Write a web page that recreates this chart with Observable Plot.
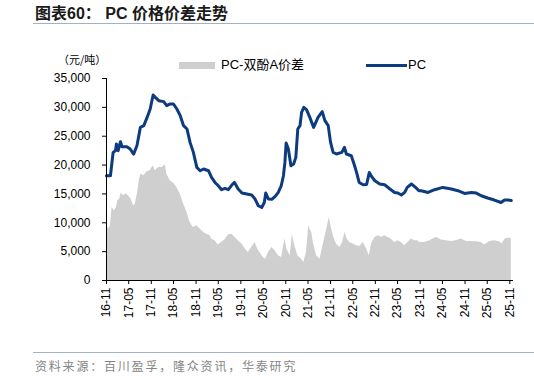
<!DOCTYPE html>
<html><head><meta charset="utf-8">
<script src="https://cdn.jsdelivr.net/npm/d3@7"></script>
<script src="https://cdn.jsdelivr.net/npm/@observablehq/plot@0.6"></script>
<style>
body{margin:0;background:#fff;}
#wrap{position:relative;width:534px;height:378px;overflow:hidden;font-family:"Liberation Sans",Arial,sans-serif;}
#title{position:absolute;left:35px;top:4px;font-weight:bold;font-size:16px;line-height:20px;font-family:"Liberation Sans","Noto Sans CJK SC",sans-serif;color:#1a1a1a;white-space:nowrap;}
.rule{position:absolute;left:33px;width:501px;height:1px;background:#9fb2c9;}
#chart{position:absolute;left:0;top:24px;}
#unit{position:absolute;left:58px;top:52px;font-size:11px;line-height:14px;font-family:"Noto Sans CJK SC",sans-serif;color:#000;white-space:nowrap;}
.lg{position:absolute;font-size:13px;line-height:16px;font-family:"Liberation Sans","Noto Sans CJK SC",sans-serif;color:#000;white-space:nowrap;}
#source{position:absolute;left:35px;top:358px;font-size:12px;line-height:16px;letter-spacing:1.8px;font-family:"Noto Sans CJK SC",sans-serif;color:#858585;white-space:nowrap;}
</style></head>
<body>
<div id="wrap">
  <div id="title">图表60：&nbsp;PC 价格价差走势</div>
  <div class="rule" style="top:23px"></div>
  <div id="chart"></div>
  <div id="unit">（元/吨）</div>
  <div style="position:absolute;left:179px;top:62px;width:36px;height:7px;background:#cfcfcf"></div>
  <div class="lg" style="left:221px;top:57px">PC-双酚A价差</div>
  <div style="position:absolute;left:366px;top:64px;width:41px;height:3px;background:#0c3b80"></div>
  <div class="lg" style="left:408px;top:57px">PC</div>
  <div class="rule" style="top:352px"></div>
  <div id="source">资料来源：百川盈孚，隆众资讯，华泰研究</div>
</div>
<script>
const pcDates = ["2016-11-01","2016-12-03","2016-12-25","2017-01-13","2017-01-21","2017-02-04","2017-02-23","2017-03-07","2017-04-16","2017-05-13","2017-06-10","2017-07-07","2017-08-04","2017-09-01","2017-09-28","2017-10-23","2017-11-16","2017-12-04","2018-01-01","2018-02-10","2018-03-07","2018-04-04","2018-05-01","2018-05-28","2018-06-25","2018-07-22","2018-08-19","2018-09-13","2018-10-10","2018-11-07","2018-12-04","2019-01-01","2019-02-10","2019-03-07","2019-04-04","2019-05-01","2019-05-28","2019-06-25","2019-07-22","2019-08-19","2019-09-10","2019-10-10","2019-11-10","2019-12-19","2020-01-28","2020-02-25","2020-03-22","2020-04-19","2020-05-10","2020-05-22","2020-06-13","2020-07-10","2020-08-07","2020-09-01","2020-09-25","2020-10-13","2020-10-25","2020-11-04","2020-11-22","2020-12-13","2021-01-04","2021-01-22","2021-02-07","2021-02-25","2021-03-10","2021-03-28","2021-04-19","2021-05-16","2021-06-16","2021-07-22","2021-08-25","2021-09-16","2021-10-13","2021-11-01","2021-11-22","2021-12-19","2022-02-01","2022-02-22","2022-03-10","2022-04-19","2022-05-16","2022-06-01","2022-06-22","2022-07-25","2022-08-22","2022-09-13","2022-10-01","2022-10-28","2022-12-07","2023-01-16","2023-02-28","2023-04-07","2023-05-04","2023-06-01","2023-06-28","2023-07-19","2023-08-22","2023-09-25","2023-10-22","2023-11-10","2024-01-04","2024-02-27","2024-05-04","2024-07-13","2024-09-04","2024-10-28","2024-12-22","2025-02-01","2025-03-13","2025-05-04","2025-06-28","2025-08-22","2025-09-19","2025-10-16","2025-11-13"];
const pcValues = [18150,18150,22200,22490,23650,22490,24050,23180,23180,22780,21900,23360,26530,26830,28260,29720,32150,31730,31160,30990,30290,30590,30590,29720,28560,26830,26250,23930,22200,19600,19020,19320,19020,17860,16990,16420,15730,15950,15730,16540,16990,15850,15150,14980,14810,14110,12950,12660,13520,15150,14110,14060,14570,15260,16420,18150,20460,23820,22780,19890,20180,21330,26250,26830,29130,30000,29600,28260,26530,28260,29250,27690,26830,23930,22200,21920,22200,23060,21920,21620,19890,18730,16990,16590,16650,18730,18030,17290,16720,16590,15850,15260,15150,14810,15260,16130,16720,16130,15560,15560,15260,15730,16130,15850,15560,15090,15260,15150,14690,14290,13940,13520,13940,13940,13870];

const spreadDates = ["2016-11-01","2016-11-19","2016-12-03","2016-12-16","2017-01-04","2017-01-21","2017-02-01","2017-02-17","2017-03-01","2017-03-19","2017-04-10","2017-04-28","2017-05-19","2017-06-10","2017-06-23","2017-07-13","2017-07-28","2017-08-10","2017-09-01","2017-09-28","2017-10-23","2017-11-16","2017-12-04","2018-01-01","2018-01-28","2018-02-24","2018-03-07","2018-04-04","2018-05-01","2018-05-28","2018-06-25","2018-07-22","2018-08-19","2018-09-13","2018-10-10","2018-11-07","2018-12-04","2019-01-01","2019-01-28","2019-02-25","2019-03-07","2019-04-04","2019-05-01","2019-05-28","2019-06-25","2019-07-22","2019-08-19","2019-09-16","2019-10-10","2019-11-10","2019-12-07","2020-01-01","2020-01-28","2020-02-25","2020-03-16","2020-04-04","2020-05-01","2020-05-22","2020-06-13","2020-07-10","2020-08-07","2020-09-01","2020-09-28","2020-10-25","2020-11-10","2020-12-07","2020-12-25","2021-01-10","2021-02-07","2021-03-10","2021-03-28","2021-04-19","2021-05-07","2021-05-16","2021-06-01","2021-06-13","2021-07-10","2021-08-07","2021-09-04","2021-09-25","2021-10-13","2021-10-22","2021-11-10","2021-11-28","2021-12-19","2022-01-16","2022-02-07","2022-02-27","2022-03-16","2022-04-07","2022-05-04","2022-06-01","2022-06-28","2022-07-25","2022-08-22","2022-09-13","2022-10-01","2022-10-28","2022-11-25","2022-12-22","2023-01-16","2023-02-13","2023-03-10","2023-04-07","2023-05-04","2023-06-01","2023-06-28","2023-07-25","2023-08-22","2023-09-19","2023-10-13","2023-10-28","2023-12-07","2024-01-19","2024-02-27","2024-03-16","2024-04-22","2024-06-01","2024-07-13","2024-08-22","2024-10-01","2024-11-13","2024-12-22","2025-02-01","2025-03-13","2025-04-10","2025-05-19","2025-06-28","2025-08-10","2025-08-28","2025-09-25","2025-10-16","2025-11-13"];
const spreadValues = [9480,8910,9480,12660,12090,12660,13820,14110,15150,14690,14980,14690,14110,12950,13230,15260,17580,18450,18150,18850,19020,19890,19020,19600,19600,20060,18450,17290,16880,16130,14980,13250,11790,10060,9190,9480,8910,8320,8030,7750,7180,6890,6140,6600,7060,7900,8030,7460,6890,6310,5440,4860,5730,6600,5440,4860,3990,3700,4860,5730,5150,4280,3990,7180,5440,4280,8030,6310,4280,3700,3120,4860,9480,8910,8320,6600,4280,3700,6310,8320,10060,10920,8910,7460,6310,5730,6600,8320,7180,6600,6310,6020,5900,6600,5440,4280,6310,7460,7750,7460,7750,7460,7180,6600,6890,6600,6020,6600,7180,6890,6890,6600,6600,6890,7310,7460,7000,6890,6750,6890,7180,6750,6750,6700,6600,6140,6700,6890,6700,6310,7180,7310,7310];

const yTicks = [0,5000,10000,15000,20000,25000,30000,35000];
const xTickDates = ["2016-11-01","2017-05-01","2017-11-01","2018-05-01","2018-11-01","2019-05-01","2019-11-01","2020-05-01","2020-11-01","2021-05-01","2021-11-01","2022-05-01","2022-11-01","2023-05-01","2023-11-01","2024-05-01","2024-11-01","2025-05-01","2025-11-01"];
const xStart = "2016-11-01", xEnd = "2025-12-01";

const pc = pcDates.map((d,i)=>({date:new Date(d), value:pcValues[i]}));
const spread = spreadDates.map((d,i)=>({date:new Date(d), value:spreadValues[i]}));

const chart = Plot.plot({
  width: 534, height: 321,
  marginLeft: 106, marginRight: 21, marginTop: 54, marginBottom: 65,
  x: {type: "utc", domain: [new Date(xStart), new Date(xEnd)]},
  y: {domain: [0, 35000]},
  style: {fontFamily: "'Liberation Sans', Arial, sans-serif", fontSize: "12px", color: "#000", background: "transparent", overflow: "visible"},
  marks: [
    Plot.areaY(spread, {x: "date", y: "value", fill: "#cfcfcf"}),
    Plot.lineY(pc, {x: "date", y: "value", stroke: "#0c3b80", strokeWidth: 3, strokeLinejoin: "round"}),
    Plot.ruleY([0], {stroke: "#000", strokeWidth: 1}),
    Plot.ruleX([new Date(xStart)], {y1: 0, y2: 35000, stroke: "#000", strokeWidth: 1}),
    Plot.axisY({ticks: yTicks, tickFormat: d3.format(","), tickSize: 4, tickPadding: 12, label: null, stroke: "#000"}),
    Plot.axisX({ticks: xTickDates.map(d => new Date(d)), tickFormat: d3.utcFormat("%y-%m"), tickSize: 4, tickPadding: 3, tickRotate: -90, label: null, stroke: "#000"})
  ]
});
document.getElementById("chart").appendChild(chart);
</script>
</body></html>
